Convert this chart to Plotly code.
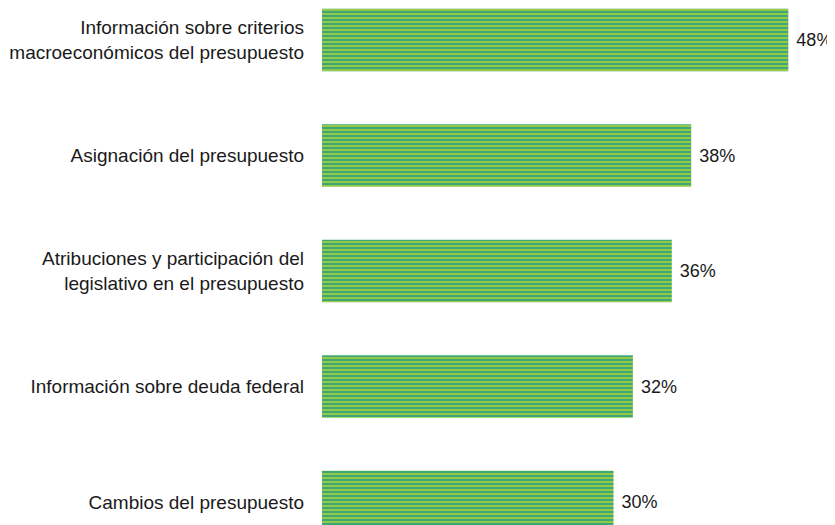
import plotly.graph_objects as go

categories = [
    "Información sobre criterios<br>macroeconómicos del presupuesto",
    "Asignación del presupuesto",
    "Atribuciones y participación del<br>legislativo en el presupuesto",
    "Información sobre deuda federal",
    "Cambios del presupuesto",
]
values = [48, 38, 36, 32, 30]
labels = [f" {v}%" for v in values]

fig = go.Figure(go.Bar(
    x=values,
    y=categories,
    orientation="h",
    text=labels,
    textposition="outside",
    textfont=dict(size=18, color="#1a1a1a", family="Liberation Sans, Arial"),
    cliponaxis=False,
    marker=dict(
        color="#3fa67a",
        line=dict(width=0),
        pattern=dict(shape="-", fgcolor="#e6ee10", size=4, solidity=0.5),
    ),
    width=0.54,
))

# page body has an 8px default margin, so the figure is 8px smaller
fig.update_layout(
    width=827, height=517,
    margin=dict(l=314, r=0, t=0, b=0, autoexpand=False),
    paper_bgcolor="white", plot_bgcolor="white",
    showlegend=False,
    font=dict(family="Liberation Sans, Arial", size=19, color="#1a1a1a"),
    xaxis=dict(range=[0, 52.8], visible=False),
    yaxis=dict(range=[4.199, -0.277], showgrid=False, zeroline=False,
               ticks="", ticklabelstandoff=17, showline=False, automargin=False),
)

fig.write_html("out.html")
